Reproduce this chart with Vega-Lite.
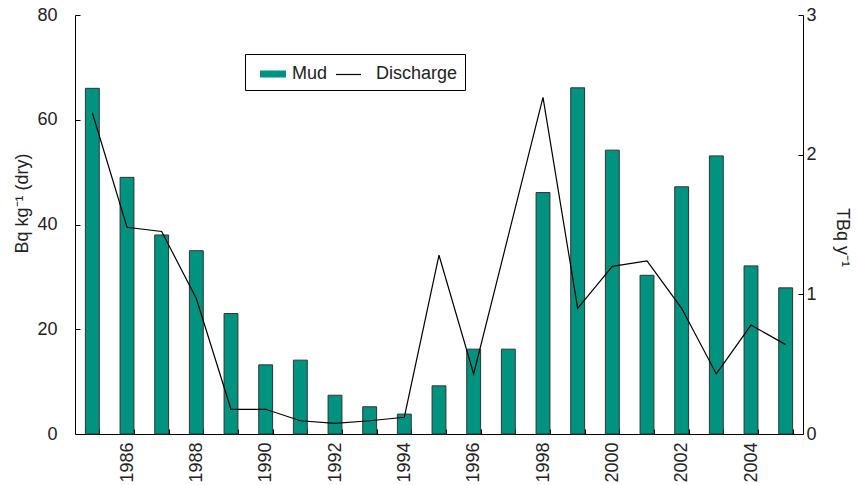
{
  "$schema": "https://vega.github.io/schema/vega-lite/v6.json",
  "width": 728,
  "height": 419,
  "autosize": "none",
  "padding": {"left": 75, "top": 15, "right": 55, "bottom": 51},
  "background": "white",
  "config": {
    "view": {"stroke": null},
    "font": "Liberation Sans",
    "axis": {"grid": false, "domainColor": "#000000", "tickColor": "#000000", "labelColor": "#222222", "titleColor": "#222222", "labelFontSize": 18, "titleFontSize": 18, "titleFontWeight": "normal", "labelFont": "Liberation Sans", "titleFont": "Liberation Sans"},
    "legend": {"labelFont": "Liberation Sans"}
  },
  "data": {
    "values": [
      {"year": 1985, "mud": 66, "discharge": 2.30},
      {"year": 1986, "mud": 49, "discharge": 1.48},
      {"year": 1987, "mud": 38, "discharge": 1.45},
      {"year": 1988, "mud": 35, "discharge": 0.97},
      {"year": 1989, "mud": 23, "discharge": 0.177},
      {"year": 1990, "mud": 13.2, "discharge": 0.177},
      {"year": 1991, "mud": 14.1, "discharge": 0.095},
      {"year": 1992, "mud": 7.4, "discharge": 0.076},
      {"year": 1993, "mud": 5.2, "discharge": 0.095},
      {"year": 1994, "mud": 3.8, "discharge": 0.12},
      {"year": 1995, "mud": 9.2, "discharge": 1.28},
      {"year": 1996, "mud": 16.2, "discharge": 0.43},
      {"year": 1997, "mud": 16.2, "discharge": 1.42},
      {"year": 1998, "mud": 46.1, "discharge": 2.41},
      {"year": 1999, "mud": 66.1, "discharge": 0.90},
      {"year": 2000, "mud": 54.2, "discharge": 1.20},
      {"year": 2001, "mud": 30.3, "discharge": 1.24},
      {"year": 2002, "mud": 47.2, "discharge": 0.90},
      {"year": 2003, "mud": 53.1, "discharge": 0.43},
      {"year": 2004, "mud": 32.1, "discharge": 0.78},
      {"year": 2005, "mud": 27.9, "discharge": 0.64}
    ]
  },
  "encoding": {
    "x": {
      "field": "year",
      "type": "ordinal",
      "scale": {"paddingInner": 0.6, "paddingOuter": 0.3},
      "axis": {
        "title": null,
        "tickBand": "extent",
        "tickSize": -5,
        "labelAngle": -90,
        "labelAlign": "right",
        "labelBaseline": "middle",
        "labelPadding": 13,
        "labelExpr": "datum.value % 2 == 0 ? datum.label : ''"
      }
    }
  },
  "layer": [
    {
      "mark": {"type": "bar", "stroke": "#333333", "strokeWidth": 1},
      "encoding": {
        "y": {
          "field": "mud",
          "type": "quantitative",
          "scale": {"domain": [0, 80], "nice": false},
          "axis": {
            "title": "Bq kg⁻¹ (dry)",
            "values": [0, 20, 40, 60, 80],
            "tickSize": -5,
            "labelPadding": 23,
            "titleX": -53,
            "titleY": 188,
            "titleAlign": "center",
            "titleBaseline": "middle",
            "titleAngle": -90
          }
        },
        "fill": {
          "datum": "Mud",
          "type": "nominal",
          "scale": {"domain": ["Mud", "Discharge"], "range": ["#009480", "transparent"]},
          "legend": {
            "title": null,
            "orient": "none",
            "direction": "horizontal",
            "legendX": 170,
            "legendY": 39,
            "padding": 7,
            "strokeColor": "#000000",
            "fillColor": "#ffffff",
            "labelFontSize": 18,
            "labelColor": "#222222",
            "labelOffset": 6,
            "columnPadding": 8,
            "symbolOffset": 8,
            "symbolSize": 676,
            "symbolType": "M-1,-0.27H1V0.27H-1Z",
            "symbolStrokeWidth": 0,
            "symbolStrokeColor": "transparent"
          }
        }
      }
    },
    {
      "mark": {"type": "line", "strokeWidth": 1.2},
      "encoding": {
        "y": {
          "field": "discharge",
          "type": "quantitative",
          "scale": {"domain": [0, 3], "nice": false},
          "axis": {
            "orient": "right",
            "title": "TBq y⁻¹",
            "values": [0, 1, 2, 3],
            "tickSize": -5,
            "labelPadding": 8,
            "titleX": 38,
            "titleY": 222,
            "titleAlign": "center",
            "titleBaseline": "middle",
            "titleAngle": 90
          }
        },
        "stroke": {
          "datum": "Discharge",
          "type": "nominal",
          "scale": {"domain": ["Discharge"], "range": ["#000000"]},
          "legend": {
            "title": null,
            "orient": "none",
            "legendX": 260,
            "legendY": 46,
            "padding": 0,
            "labelExpr": "''",
            "labelColor": "transparent",
            "labelFontSize": 18,
            "symbolSize": 625,
            "symbolType": "stroke",
            "symbolStrokeWidth": 1.2
          }
        }
      }
    }
  ],
  "resolve": {"scale": {"y": "independent"}}
}
